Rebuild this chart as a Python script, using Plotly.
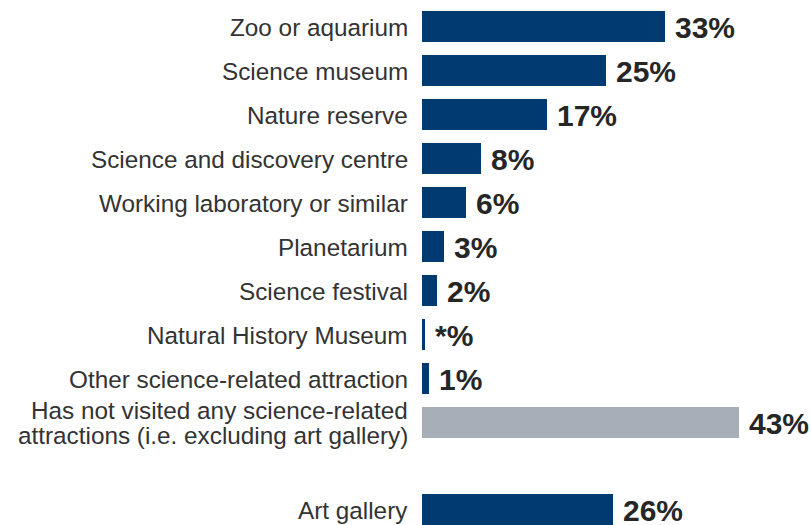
import plotly.graph_objects as go

categories = [
    "Zoo or aquarium",
    "Science museum",
    "Nature reserve",
    "Science and discovery centre",
    "Working laboratory or similar",
    "Planetarium",
    "Science festival",
    "Natural History Museum",
    "Other science-related attraction",
    "Has not visited any science-related\nattractions (i.e. excluding art gallery)",
    "Art gallery",
]
values = [33, 25, 17, 8, 6, 3, 2, 0.45, 1, 43, 26]
value_labels = ["33%", "25%", "17%", "8%", "6%", "3%", "2%", "*%", "1%", "43%", "26%"]
row_positions = [0, 1, 2, 3, 4, 5, 6, 7, 8, 9, 11]
bar_colors = ["#003a70"] * 9 + ["#a7aeb7", "#003a70"]

FONT = "Liberation Sans, Arial, sans-serif"

fig = go.Figure()
fig.add_trace(go.Bar(
    x=values,
    y=row_positions,
    orientation="h",
    marker=dict(color=bar_colors, line=dict(width=0)),
    width=0.705,
    hoverinfo="skip",
))

annotations = []
for cat, pos in zip(categories, row_positions):
    lines = cat.split("\n")
    n = len(lines)
    for i, line in enumerate(lines):
        shift = (((n - 1) / 2) - i) * 24.5
        annotations.append(dict(
            x=0, xref="paper", y=pos, yref="y",
            text=line, showarrow=False,
            xanchor="right", yanchor="middle",
            xshift=-12, yshift=shift - 1,
            font=dict(family=FONT, size=24.3, color="#333333"),
        ))

for v, lab, pos in zip(values, value_labels, row_positions):
    annotations.append(dict(
        x=v, xref="x", y=pos, yref="y",
        text="<b>" + lab + "</b>", showarrow=False,
        xanchor="left", yanchor="middle",
        xshift=8, yshift=-1,
        font=dict(family=FONT, size=30, color="#262626"),
    ))

fig.update_layout(
    width=811, height=525,
    margin=dict(l=422, r=0, t=5, b=0),
    paper_bgcolor="white", plot_bgcolor="white",
    showlegend=False,
    bargap=0,
    xaxis=dict(range=[0, 389 / 7.365], visible=False, fixedrange=True),
    yaxis=dict(range=[-0.5 + 520 / 43.9, -0.5], visible=False, fixedrange=True),
    annotations=annotations,
)

fig.write_html(
    "out.html",
    config={"displayModeBar": False},
    post_script="document.body.style.margin='0';document.body.style.overflow='hidden';",
)
